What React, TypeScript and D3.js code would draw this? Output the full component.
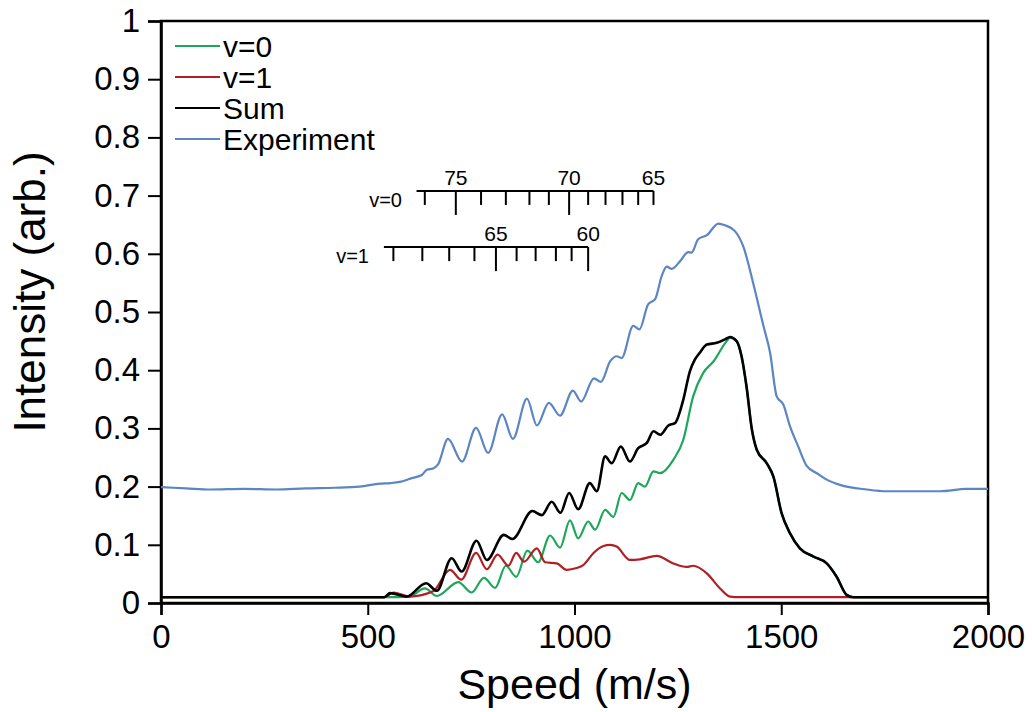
import React, { useEffect, useRef } from "react";
import * as d3 from "d3";

// [speed (m/s), intensity]
const v0Series: [number, number][] = [
  [0, 0.01], [550, 0.01], [600, 0.011], [638, 0.025], [667, 0.012], [719, 0.036],
  [751, 0.018], [781, 0.043], [808, 0.026], [834, 0.064], [859, 0.045], [886, 0.09],
  [912, 0.07], [941, 0.116], [965, 0.095], [989, 0.142], [1009, 0.111], [1033, 0.14],
  [1050, 0.126], [1074, 0.16], [1094, 0.148], [1114, 0.189], [1134, 0.177], [1154, 0.206],
  [1170, 0.2], [1191, 0.226], [1207, 0.223], [1239, 0.246], [1263, 0.28], [1287, 0.355],
  [1311, 0.395], [1336, 0.415], [1368, 0.45], [1376, 0.456], [1392, 0.45], [1404, 0.424],
  [1416, 0.372], [1429, 0.298], [1441, 0.263], [1465, 0.24], [1481, 0.217], [1501, 0.154],
  [1521, 0.12], [1545, 0.094], [1577, 0.08], [1610, 0.068], [1634, 0.045], [1658, 0.014],
  [1674, 0.01], [2000, 0.01],
];

const v1Series: [number, number][] = [
  [0, 0.01], [540, 0.01], [562, 0.018], [602, 0.011], [658, 0.02], [699, 0.057],
  [726, 0.04], [762, 0.086], [788, 0.058], [814, 0.083], [840, 0.064], [859, 0.086],
  [878, 0.071], [909, 0.094], [929, 0.07], [957, 0.068], [981, 0.057], [1005, 0.06],
  [1021, 0.065], [1046, 0.086], [1070, 0.098], [1086, 0.1], [1102, 0.097], [1134, 0.074],
  [1158, 0.075], [1199, 0.081], [1239, 0.068], [1271, 0.062], [1287, 0.064], [1320, 0.051],
  [1352, 0.025], [1376, 0.011], [1400, 0.01], [2000, 0.01],
];

const sumSeries: [number, number][] = [
  [0, 0.01], [540, 0.01], [554, 0.017], [594, 0.011], [641, 0.034], [667, 0.021],
  [703, 0.077], [727, 0.054], [763, 0.107], [788, 0.074], [829, 0.117], [850, 0.11],
  [898, 0.158], [921, 0.151], [945, 0.174], [966, 0.155], [987, 0.189], [1009, 0.161],
  [1037, 0.206], [1054, 0.192], [1074, 0.252], [1090, 0.24], [1112, 0.269], [1134, 0.243],
  [1154, 0.266], [1175, 0.275], [1191, 0.295], [1207, 0.289], [1227, 0.305], [1243, 0.309],
  [1263, 0.349], [1279, 0.398], [1291, 0.418], [1303, 0.43], [1320, 0.444], [1344, 0.447],
  [1364, 0.453], [1376, 0.457], [1392, 0.45], [1404, 0.424], [1416, 0.372], [1429, 0.298],
  [1441, 0.263], [1465, 0.24], [1481, 0.217], [1501, 0.154], [1521, 0.12], [1545, 0.094],
  [1577, 0.08], [1610, 0.068], [1634, 0.045], [1658, 0.014], [1674, 0.01], [2000, 0.01],
];

const experimentSeries: [number, number][] = [
  [0, 0.199], [60, 0.197], [120, 0.195], [200, 0.196], [280, 0.195], [350, 0.197],
  [420, 0.198], [480, 0.2], [530, 0.205], [555, 0.206], [578, 0.208], [609, 0.215],
  [631, 0.22], [643, 0.229], [658, 0.231], [670, 0.238], [694, 0.282], [728, 0.243],
  [762, 0.301], [791, 0.258], [825, 0.324], [851, 0.282], [885, 0.351], [909, 0.305],
  [938, 0.344], [965, 0.322], [996, 0.365], [1016, 0.346], [1047, 0.386], [1064, 0.38],
  [1086, 0.415], [1102, 0.424], [1114, 0.421], [1142, 0.476], [1157, 0.47], [1178, 0.513],
  [1195, 0.522], [1211, 0.562], [1223, 0.578], [1235, 0.574], [1255, 0.587], [1275, 0.603],
  [1283, 0.602], [1299, 0.625], [1320, 0.632], [1348, 0.652], [1364, 0.649], [1388, 0.639],
  [1408, 0.613], [1432, 0.55], [1457, 0.476], [1473, 0.43], [1489, 0.355], [1505, 0.341],
  [1521, 0.304], [1541, 0.269], [1562, 0.235], [1586, 0.223], [1610, 0.212], [1642, 0.203],
  [1707, 0.195], [1755, 0.192], [1819, 0.192], [1884, 0.192], [1948, 0.196], [2000, 0.196],
];

const seriesNames = ["v=0", "v=1", "Sum", "Experiment"];
const seriesColors = ["#1ea65a", "#b01f24", "#000000", "#5b86c3"];

const xTicks = [0, 500, 1000, 1500, 2000];
const yTicks = [0, 0.1, 0.2, 0.3, 0.4, 0.5, 0.6, 0.7, 0.8, 0.9, 1];

// rotational-level combs: J value and its speed
const v0Levels = [76, 75, 74, 73, 72, 71, 70, 69, 68, 67, 66, 65];
const v0LevelSpeeds = [638, 713, 774, 834, 891, 938, 987, 1033, 1075, 1116, 1154, 1191];
const v0Labelled = [75, 70, 65];
const v0LongTicks = [75, 70];
const v1Levels = [69, 68, 67, 66, 65, 64, 63, 62, 61, 60];
const v1LevelSpeeds = [562, 632, 697, 758, 810, 860, 906, 955, 993, 1033];
const v1Labelled = [65, 60];
const v1LongTicks = [65, 60];

const FONT = "'Liberation Sans', Arial, sans-serif";

const App = () => {
  const svgRef = useRef<SVGSVGElement>(null);

  useEffect(() => {
    const width = 1032;
    const height = 712;
    const left = 161;
    const right = 988;
    const top = 21;
    const bottom = 603;

    const svg = d3.select(svgRef.current);
    svg.selectAll("*").remove();
    svg.attr("width", width).attr("height", height).style("font-family", FONT);

    const x = d3.scaleLinear().domain([0, 2000]).range([left, right]);
    const y = d3.scaleLinear().domain([0, 1]).range([bottom, top]);

    svg.append("rect").attr("width", width).attr("height", height).attr("fill", "white");

    // plot frame
    svg
      .append("rect")
      .attr("x", left)
      .attr("y", top)
      .attr("width", right - left)
      .attr("height", bottom - top)
      .attr("fill", "none")
      .attr("stroke", "black")
      .attr("stroke-width", 2.5);

    const yAxis = svg
      .append("g")
      .attr("transform", `translate(${left},0)`)
      .call(
        d3
          .axisLeft(y)
          .tickValues(yTicks)
          .tickSize(13)
          .tickPadding(8)
          .tickFormat(d3.format(".1~f") as any)
      );

    const xAxis = svg
      .append("g")
      .attr("transform", `translate(0,${bottom})`)
      .call(
        d3
          .axisBottom(x)
          .tickValues(xTicks)
          .tickSize(12)
          .tickPadding(10)
          .tickFormat(d3.format("d") as any)
      );

    [xAxis, yAxis].forEach((g) => {
      g.selectAll(".domain").attr("stroke", "black").attr("stroke-width", 2.5);
      g.selectAll(".tick line").attr("stroke", "black").attr("stroke-width", 2);
      g.selectAll(".tick text")
        .attr("fill", "black")
        .style("font-size", "33px")
        .style("font-family", FONT);
    });

    svg
      .append("text")
      .attr("x", (left + right) / 2)
      .attr("y", 699)
      .attr("text-anchor", "middle")
      .style("font-size", "43px")
      .text("Speed (m/s)");

    svg
      .append("text")
      .attr("transform", `translate(45,292) rotate(-90)`)
      .attr("text-anchor", "middle")
      .style("font-size", "44px")
      .text("Intensity (arb.)");

    // curves
    const line = d3
      .line<[number, number]>()
      .x((d) => x(d[0]))
      .y((d) => y(d[1]))
      .curve(d3.curveMonotoneX);

    const allSeries = [v0Series, v1Series, sumSeries, experimentSeries];
    const widths = [2.2, 2.2, 2.6, 2.2];
    allSeries.forEach((s, i) => {
      svg
        .append("path")
        .datum(s)
        .attr("fill", "none")
        .attr("stroke", seriesColors[i])
        .attr("stroke-width", widths[i])
        .attr("stroke-linejoin", "round")
        .attr("d", line);
    });

    // level combs
    const drawComb = (
      label: string,
      level: number,
      js: number[],
      speeds: number[],
      labelled: number[],
      longTicks: number[],
      startSpeed: number,
      labelRight: number
    ) => {
      const g = svg.append("g");
      const yy = y(level);
      g.append("line")
        .attr("x1", x(startSpeed))
        .attr("x2", x(speeds[speeds.length - 1]))
        .attr("y1", yy)
        .attr("y2", yy)
        .attr("stroke", "black")
        .attr("stroke-width", 2);
      js.forEach((j, i) => {
        const xx = x(speeds[i]);
        g.append("line")
          .attr("x1", xx)
          .attr("x2", xx)
          .attr("y1", yy)
          .attr("y2", yy + (longTicks.includes(j) ? 24 : 14))
          .attr("stroke", "black")
          .attr("stroke-width", 2);
        if (labelled.includes(j)) {
          g.append("text")
            .attr("x", xx)
            .attr("y", yy - 6)
            .attr("text-anchor", "middle")
            .style("font-size", "21px")
            .text(j);
        }
      });
      g.append("text")
        .attr("x", labelRight)
        .attr("y", yy + 16)
        .attr("text-anchor", "end")
        .style("font-size", "20px")
        .text(label);
    };

    drawComb("v=0", 0.708, v0Levels, v0LevelSpeeds, v0Labelled, v0LongTicks, 618, 402);
    drawComb("v=1", 0.6115, v1Levels, v1LevelSpeeds, v1Labelled, v1LongTicks, 539, 369);

    // legend
    const legend = svg.append("g").attr("transform", `translate(175,46)`);
    seriesNames.forEach((name, i) => {
      const row = legend.append("g").attr("transform", `translate(0,${i * 31})`);
      row
        .append("line")
        .attr("x1", 0)
        .attr("x2", 45)
        .attr("y1", 0)
        .attr("y2", 0)
        .attr("stroke", seriesColors[i])
        .attr("stroke-width", 2.2);
      row
        .append("text")
        .attr("x", 48)
        .attr("y", 11)
        .style("font-size", "30px")
        .text(name);
    });
  }, []);

  return <svg ref={svgRef} style={{ position: "absolute", left: 0, top: 0 }}></svg>;
};

export default App;
